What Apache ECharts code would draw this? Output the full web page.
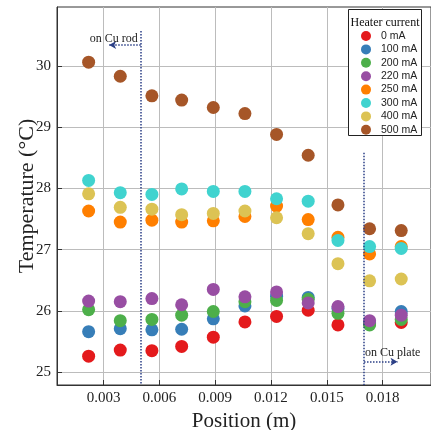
<!DOCTYPE html>
<html>
<head>
<meta charset="utf-8">
<script src="https://cdn.jsdelivr.net/npm/echarts@6/dist/echarts.min.js"></script>
<style>
  html, body { margin: 0; padding: 0; background: #fff; }
  #chart { width: 431px; height: 430px; }
</style>
</head>
<body>
<div id="chart"></div>
<script>
// positions along the rod (m)
var positions = [0.0022, 0.0039, 0.0056, 0.0072, 0.0089, 0.0106, 0.0123, 0.0140, 0.0156, 0.0173, 0.0190];

var seriesNames = ['0 mA', '100 mA', '200 mA', '220 mA', '250 mA', '300 mA', '400 mA', '500 mA'];
var t0 = [25.26, 25.36, 25.35, 25.42, 25.57, 25.82, 25.91, 26.01, 25.77, 25.79, 25.81];
var t100 = [25.66, 25.71, 25.69, 25.70, 25.87, 26.08, 26.24, 26.22, 26.04, 25.82, 25.99];
var t200 = [26.02, 25.84, 25.86, 25.93, 25.99, 26.15, 26.17, 26.19, 25.96, 25.77, 25.86];
var t220 = [26.16, 26.15, 26.20, 26.10, 26.35, 26.23, 26.31, 26.13, 26.07, 25.84, 25.93];
var t250 = [27.63, 27.45, 27.48, 27.45, 27.47, 27.54, 27.71, 27.49, 27.20, 26.93, 27.05];
var t300 = [28.13, 27.93, 27.90, 27.99, 27.95, 27.95, 27.83, 27.79, 27.15, 27.05, 27.02];
var t400 = [27.91, 27.69, 27.66, 27.57, 27.59, 27.63, 27.52, 27.26, 26.77, 26.49, 26.52];
var t500 = [30.06, 29.83, 29.51, 29.44, 29.32, 29.22, 28.88, 28.54, 27.73, 27.34, 27.31];
var allTemps = [t0, t100, t200, t220, t250, t300, t400, t500];

var xTicks = [0.003, 0.006, 0.009, 0.012, 0.015, 0.018];
var yTicks = [25, 26, 27, 28, 29, 30];

// boundary markers: rod / plate
var rodEdge = [[0.005, 30.57], [0.005, 24.79]];
var plateEdge = [[0.017, 28.58], [0.017, 24.79]];
var rodArrow = [[0.005, 30.34], [0.0033, 30.34]];
var plateArrow = [[0.017, 25.17], [0.0188, 25.17]];

var colors = ['#e41a1c', '#377eb8', '#4daf4a', '#984ea3', '#ff7f00', '#40d3cf', '#dcc354', '#a65628'];
var serif = '"Liberation Serif", "DejaVu Serif", serif';
var sans = '"Liberation Sans", Arial, sans-serif';
var navy = '#2b3f86';

var chart = echarts.init(document.getElementById('chart'), null, { renderer: 'canvas' });

var series = allTemps.map(function(vals, i) {
  return {
    name: seriesNames[i],
    type: 'scatter',
    symbolSize: 13,
    itemStyle: { color: colors[i], opacity: 1 },
    data: vals.map(function(v, j) { return [positions[j], v]; })
  };
});

var dotted = { color: navy, type: 'dotted', width: 1.5 };
series.push({
  type: 'scatter',
  data: [],
  silent: true,
  markLine: {
    silent: true,
    animation: false,
    symbol: ['none', 'none'],
    label: { show: false },
    lineStyle: dotted,
    data: [
      [{ coord: rodEdge[0] }, { coord: rodEdge[1] }],
      [{ coord: plateEdge[0] }, { coord: plateEdge[1] }]
    ]
  }
});
series.push({
  type: 'scatter',
  data: [],
  silent: true,
  markLine: {
    silent: true,
    animation: false,
    symbol: ['none', 'arrow'],
    symbolSize: [6, 7],
    lineStyle: dotted,
    data: [
      [{ coord: rodArrow[0], label: { show: true, position: 'start', formatter: 'on Cu rod', color: '#222', fontFamily: serif, fontSize: 12, offset: [-8, -6], align: 'right' } },
       { coord: rodArrow[1] }],
      [{ coord: plateArrow[0], label: { show: true, position: 'start', formatter: 'on Cu plate', color: '#222', fontFamily: serif, fontSize: 12, offset: [6, -9], align: 'left' } },
       { coord: plateArrow[1] }]
    ],
    label: { show: false }
  }
});

chart.setOption({
  animation: false,
  backgroundColor: '#fff',
  grid: {
    left: 57, right: 0, top: 7, bottom: 45,
    outerBoundsMode: 'none',
    containLabel: false,
    show: true, borderColor: '#333', borderWidth: 1
  },
  xAxis: {
    type: 'value',
    min: 0.0005,
    max: 0.0206,
    name: 'Position (m)',
    nameLocation: 'middle',
    nameGap: 24,
    nameTextStyle: { fontFamily: serif, fontSize: 21, color: '#222' },
    axisLine: { show: true, lineStyle: { color: '#333' } },
    axisTick: { show: true, inside: true, length: 5, customValues: xTicks, lineStyle: { color: '#333' } },
    axisLabel: {
      customValues: xTicks,
      fontFamily: serif, fontSize: 15, color: '#222', margin: 6,
      formatter: function(v) { return v.toFixed(3); }
    },
    splitLine: { show: true, lineStyle: { color: '#bcbcbc', width: 1 } }
  },
  yAxis: {
    type: 'value',
    min: 24.79,
    max: 30.96,
    name: 'Temperature (°C)',
    nameLocation: 'middle',
    nameGap: 19,
    nameMoveOverlap: false,
    nameTextStyle: { fontFamily: serif, fontSize: 22, color: '#222' },
    axisLine: { show: true, lineStyle: { color: '#333' } },
    axisTick: { show: true, inside: true, length: 5, customValues: yTicks, lineStyle: { color: '#333' } },
    axisLabel: { customValues: yTicks, fontFamily: serif, fontSize: 15, color: '#222', margin: 6 },
    splitLine: { show: true, lineStyle: { color: '#bcbcbc', width: 1 } }
  },
  legend: {
    data: seriesNames,
    orient: 'vertical',
    left: 356,
    top: 25,
    z: 10,
    icon: 'circle',
    itemWidth: 20,
    itemHeight: 10,
    itemGap: 1.4,
    textStyle: { fontFamily: sans, fontSize: 10.5, color: '#222', lineHeight: 12 },
    selectedMode: false
  },
  graphic: [
    { type: 'rect', shape: { x: 348.5, y: 9.5, width: 73, height: 126 },
      style: { fill: '#fff', stroke: '#222', lineWidth: 1 }, z: 3 },
    { type: 'text', x: 385, y: 17, z: 11,
      style: { text: 'Heater current', fontFamily: serif, fontSize: 12, fill: '#111', align: 'center' } }
  ],
  series: series
});
</script>
</body>
</html>
